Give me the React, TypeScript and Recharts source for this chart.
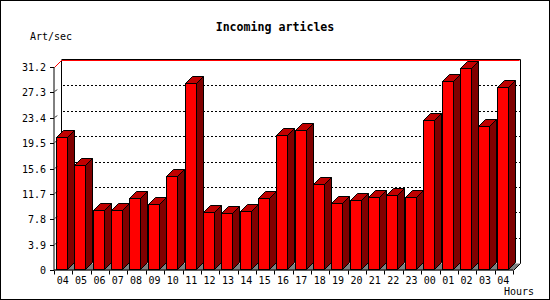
import { BarChart, Bar, XAxis, YAxis, CartesianGrid, ReferenceArea } from "recharts";

const hours = [
  "04", "05", "06", "07", "08", "09", "10", "11", "12", "13", "14", "15", "16",
  "17", "18", "19", "20", "21", "22", "23", "00", "01", "02", "03", "04",
];
const artPerSec = [
  20.4, 16.1, 9.2, 9.2, 11.0, 10.2, 14.4, 28.7, 8.9, 8.7, 9.0, 11.0, 20.8,
  21.5, 13.2, 10.25, 10.7, 11.2, 11.6, 11.2, 23.0, 29.05, 31.0, 22.2, 28.1,
];
const yTicks = [0, 3.9, 7.8, 11.7, 15.6, 19.5, 23.4, 27.3, 31.2];

const W = 550;
const H = 300;
const LEFT = 54;
const RIGHT = 37;
const TOP = 67;
const BOTTOM = 30;
const DEPTH = 7;
const PLOT_W = W - LEFT - RIGHT;
const FONT = "'DejaVu Sans Mono', monospace";

const data = hours.map((hour, i) => ({ hour, value: artPerSec[i] }));

// 3D bar: red front, darker top and side
const Bar3D = (props: any) => {
  const { width, height } = props;
  if (height <= 0) return null;
  const x = Math.round(props.x) - 1.5;
  const y = Math.round(props.y) + 0.5;
  const w = Math.round(width);
  const r = x + w;
  const b = y + Math.round(height) - 1;
  return (
    <g stroke="#000" strokeWidth={1}>
      <polygon
        points={`${r},${y} ${r + DEPTH},${y - DEPTH} ${r + DEPTH},${b - DEPTH} ${r},${b}`}
        fill="#800000"
      />
      <polygon
        points={`${x},${y} ${x + DEPTH},${y - DEPTH} ${r + DEPTH},${y - DEPTH} ${r},${y}`}
        fill="#c00000"
      />
      <rect x={x} y={y} width={w} height={b - y} fill="#ff0000" />
    </g>
  );
};

// back wall, floor and the max line
const Walls = (props: any) => {
  const x = props.x + 0.5;
  const y = props.y + 0.5;
  const r = x + props.width;
  const b = y + props.height;
  return (
    <g>
      <polygon
        points={`${x},${b} ${x + DEPTH},${b - DEPTH} ${r + DEPTH},${b - DEPTH} ${r},${b}`}
        fill="#808080"
      />
      <line x1={x + DEPTH} y1={y - DEPTH} x2={x + DEPTH} y2={b - DEPTH} stroke="#000" />
      <line x1={r + DEPTH} y1={y - DEPTH - 1} x2={r + DEPTH} y2={b - DEPTH} stroke="#000" />
      <line x1={r} y1={b} x2={r + DEPTH} y2={b - DEPTH} stroke="#000" />
      <line x1={x + DEPTH} y1={y - DEPTH - 1} x2={r + DEPTH} y2={y - DEPTH - 1} stroke="#000" />
      <line x1={x + DEPTH} y1={y - DEPTH} x2={r + DEPTH - 1} y2={y - DEPTH} stroke="#ff0000" />
      <line x1={x} y1={y} x2={x + DEPTH} y2={y - DEPTH} stroke="#ff0000" />
    </g>
  );
};

const gridLine = (p: any) => {
  const { x1, x2, y1 } = p;
  if (Math.abs(y1 - TOP) < 1 || Math.abs(y1 - (H - BOTTOM)) < 1) return <g key={p.key} />;
  const gy = Math.round(y1) - DEPTH + 0.5;
  return (
    <line
      key={p.key}
      x1={x1 + DEPTH + 2}
      x2={x2 + DEPTH}
      y1={gy}
      y2={gy}
      stroke="#000"
      strokeDasharray="2 2"
    />
  );
};

const XTick = (props: any) => {
  const { x, payload, index } = props;
  const half = PLOT_W / hours.length / 2;
  const axisY = H - BOTTOM + 0.5;
  const lx = Math.round(x - half) + 0.5;
  const rx = Math.round(x + half) + 0.5;
  return (
    <g>
      <line x1={lx} x2={lx} y1={axisY} y2={axisY + 4} stroke="#000" />
      {index === hours.length - 1 && (
        <line x1={rx} x2={rx} y1={axisY} y2={axisY + 4} stroke="#000" />
      )}
      <text x={x - 0.5} y={axisY + 13.5} textAnchor="middle" fontFamily={FONT} fontSize={10} fill="#000">
        {payload.value}
      </text>
    </g>
  );
};

const YTick = (props: any) => {
  const { payload } = props;
  const y = Math.round(props.y) + 0.5;
  return (
    <g>
      <line x1={LEFT - 4} x2={LEFT} y1={y} y2={y} stroke="#000" />
      {payload.value > 0 && payload.value < 31.2 && (
        <line x1={LEFT + 1} y1={y - 1} x2={LEFT + 3} y2={y - 3} stroke="#000" />
      )}
      <text x={LEFT - 8} y={y + 3.5} textAnchor="end" fontFamily={FONT} fontSize={10} fill="#000">
        {payload.value}
      </text>
    </g>
  );
};

const App = () => {
  return (
    <div
      style={{
        position: "absolute",
        left: 0,
        top: 0,
        width: W,
        height: H,
        boxSizing: "border-box",
        border: "1px solid #000",
        background: "#fff",
      }}
    >
      <div
        style={{
          position: "absolute",
          left: 0,
          top: 19,
          width: W - 2,
          textAlign: "center",
          fontFamily: FONT,
          fontWeight: "bold",
          fontSize: 11.6,
        }}
      >
        Incoming articles
      </div>
      <div style={{ position: "absolute", left: 29, top: 30, fontFamily: FONT, fontSize: 10 }}>
        Art/sec
      </div>
      <div style={{ position: "absolute", left: 503, top: 285, fontFamily: FONT, fontSize: 10 }}>
        Hours
      </div>
      <div style={{ position: "absolute", left: -1, top: -1 }}>
        <BarChart
          width={W}
          height={H}
          data={data}
          margin={{ top: TOP, right: RIGHT, bottom: 0, left: 0 }}
          barSize={11}
        >
          <ReferenceArea y1={0} y2={31.2} ifOverflow="visible" shape={Walls} />
          <CartesianGrid vertical={false} horizontal={gridLine} />
          <XAxis
            dataKey="hour"
            height={BOTTOM}
            interval={0}
            tickLine={false}
            axisLine={{ stroke: "#000" }}
            tick={(p: any) => <XTick {...p} />}
          />
          <YAxis
            width={LEFT}
            domain={[0, 31.2]}
            ticks={yTicks}
            interval={0}
            tickLine={false}
            axisLine={{ stroke: "#000" }}
            tick={(p: any) => <YTick {...p} />}
          />
          <Bar dataKey="value" isAnimationActive={false} shape={Bar3D} />
        </BarChart>
      </div>
    </div>
  );
};

export default App;
